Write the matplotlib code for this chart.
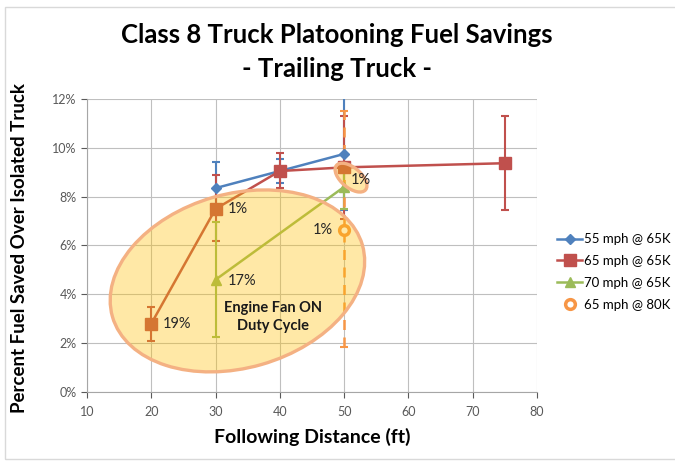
import numpy as np
import matplotlib
matplotlib.use("Agg")
import matplotlib.pyplot as plt
from matplotlib.patches import Ellipse, Rectangle
from matplotlib.transforms import ScaledTranslation

# ==================================================
# DADOS
# ==================================================

blue_x = [30, 40, 50]
blue_y = [8.35, 9.05, 9.75]
blue_lo = [1.05, 0.5, 2.3]
blue_hi = [1.05, 0.5, 2.4]

red_x = [20, 30, 40, 50, 75]
red_y = [2.8, 7.5, 9.05, 9.2, 9.37]
red_lo = [0.7, 1.3, 0.7, 2.1, 1.9]
red_hi = [0.7, 1.38, 0.75, 2.1, 1.93]

green_x = [30, 50]
green_y = [4.6, 8.4]
green_lo = [2.33, 0.9]
green_hi = [2.37, 0.9]

orange_x = [50]
orange_y = [6.65]
orange_lo = [4.8]
orange_hi = [4.85]

series_names = ["55 mph @ 65K", "65 mph @ 65K", "70 mph @ 65K", "65 mph @ 80K"]

x_ticks = [10, 20, 30, 40, 50, 60, 70, 80]
y_ticks = [0, 2, 4, 6, 8, 10, 12]

azul = "#4F81BD"
vermelho = "#C0504D"
verde = "#9BBB59"
laranja = "#F79646"

plt.rcParams["font.family"] = ["Lato", "DejaVu Sans"]

fig = plt.figure(figsize=(6.75, 4.61), dpi=100)
ax = fig.add_axes([87 / 675, 1 - 392 / 461, 450 / 675, 293 / 461])

# ==================================================
# SÉRIES
# ==================================================

ax.plot(blue_x, blue_y, color=azul, lw=1.8, marker="D", ms=5,
        label=series_names[0], zorder=3)
ax.errorbar(blue_x, blue_y, yerr=[blue_lo, blue_hi], fmt="none",
            ecolor=azul, elinewidth=1.5, capsize=3, capthick=1.5, zorder=2)

ax.plot(red_x, red_y, color=vermelho, lw=1.8, marker="s", ms=8,
        label=series_names[1], zorder=3)
ax.errorbar(red_x, red_y, yerr=[red_lo, red_hi], fmt="none",
            ecolor=vermelho, elinewidth=1.5, capsize=3, capthick=1.5, zorder=2)

ax.plot(green_x, green_y, color=verde, lw=1.8, marker="^", ms=7,
        label=series_names[2], zorder=3)
ax.errorbar(green_x, green_y, yerr=[green_lo, green_hi], fmt="none",
            ecolor=verde, elinewidth=1.5, capsize=3, capthick=1.5, zorder=2)

ax.plot(orange_x, orange_y, ls="none", marker="o", ms=7, mfc="white",
        mec=laranja, mew=2.5, label=series_names[3], zorder=4)
eb = ax.errorbar(orange_x, orange_y, yerr=[orange_lo, orange_hi], fmt="none",
                 ecolor=laranja, elinewidth=1.8, capsize=3, capthick=1.5, zorder=2)
eb[2][0].set_linestyle((0, (4, 3)))

# ==================================================
# ELIPSES DE DESTAQUE
# ==================================================

grande = Ellipse((0, 0), 2.6, 1.74, angle=16,
                 facecolor=(1.0, 0.75, 0.0, 0.35), edgecolor="#F4B183", lw=2.4,
                 transform=fig.dpi_scale_trans + ScaledTranslation(33.4, 4.55, ax.transData),
                 zorder=5)
ax.add_patch(grande)

pequena = Ellipse((0, 0), 0.38, 0.20, angle=-40,
                  facecolor=(1.0, 0.75, 0.0, 0.35), edgecolor="#F4B183", lw=2.4,
                  transform=fig.dpi_scale_trans + ScaledTranslation(51.07, 8.78, ax.transData),
                  zorder=5)
ax.add_patch(pequena)

# ==================================================
# RÓTULOS
# ==================================================

rotulos = [
    (red_x[0], red_y[0], "19%", 8, 0, "left"),
    (red_x[1], red_y[1], "1%", 9, 0, "left"),
    (green_x[0], green_y[0], "17%", 9, -1, "left"),
    (red_x[3], red_y[3], "1%", 5, -9, "left"),
    (orange_x[0], orange_y[0], "1%", -8, 0, "right"),
]
for x, y, txt, dx, dy, ha in rotulos:
    ax.annotate(txt, (x, y), xytext=(dx, dy), textcoords="offset points",
                ha=ha, va="center", fontsize=10.5, color="#262626", zorder=6)

ax.text(38.9, 3.07, "Engine Fan ON\nDuty Cycle", ha="center", va="center",
        fontsize=10.5, fontweight="bold", color="#1a1a1a", linespacing=1.3, zorder=6)

# ==================================================
# EIXOS
# ==================================================

ax.set_xlim(10, 80)
ax.set_ylim(0, 12)
ax.set_xticks(x_ticks)
ax.set_yticks(y_ticks)
ax.set_yticklabels([f"{v}%" for v in y_ticks])
ax.tick_params(labelsize=9, colors="#595959", length=4, width=0.8)
ax.tick_params(axis="x", pad=6)
ax.grid(True, color="#BFBFBF", lw=0.8)
ax.set_axisbelow(True)
for lado in ["top", "right"]:
    ax.spines[lado].set_visible(False)
for lado in ["left", "bottom"]:
    ax.spines[lado].set_color("#A6A6A6")
    ax.spines[lado].set_linewidth(0.8)

fig.text(312 / 675, 1 - 437 / 461, "Following Distance (ft)", ha="center",
         va="center", fontsize=14, fontweight="bold")
fig.text(20 / 675, 1 - 248 / 461, "Percent Fuel Saved Over Isolated Truck",
         ha="center", va="center", rotation=90, fontsize=13.5, fontweight="bold")

fig.text(337 / 675, 1 - 35 / 461, "Class 8 Truck Platooning Fuel Savings",
         ha="center", va="center", fontsize=18.5, fontweight="bold")
fig.text(337 / 675, 1 - 69 / 461, "- Trailing Truck -",
         ha="center", va="center", fontsize=18.5, fontweight="bold")

fig.legend(loc="center left", bbox_to_anchor=(552 / 675, 1 - 272 / 461),
           frameon=False, fontsize=9.5, handlelength=1.9, handletextpad=0.1,
           labelspacing=0.75, borderaxespad=0)

fig.patches.append(Rectangle((5 / 675, 2 / 461), 700 / 675, 452 / 461,
                             transform=fig.transFigure, fill=False,
                             edgecolor="#D9D9D9", lw=1))

plt.savefig("out.png", dpi=100)
